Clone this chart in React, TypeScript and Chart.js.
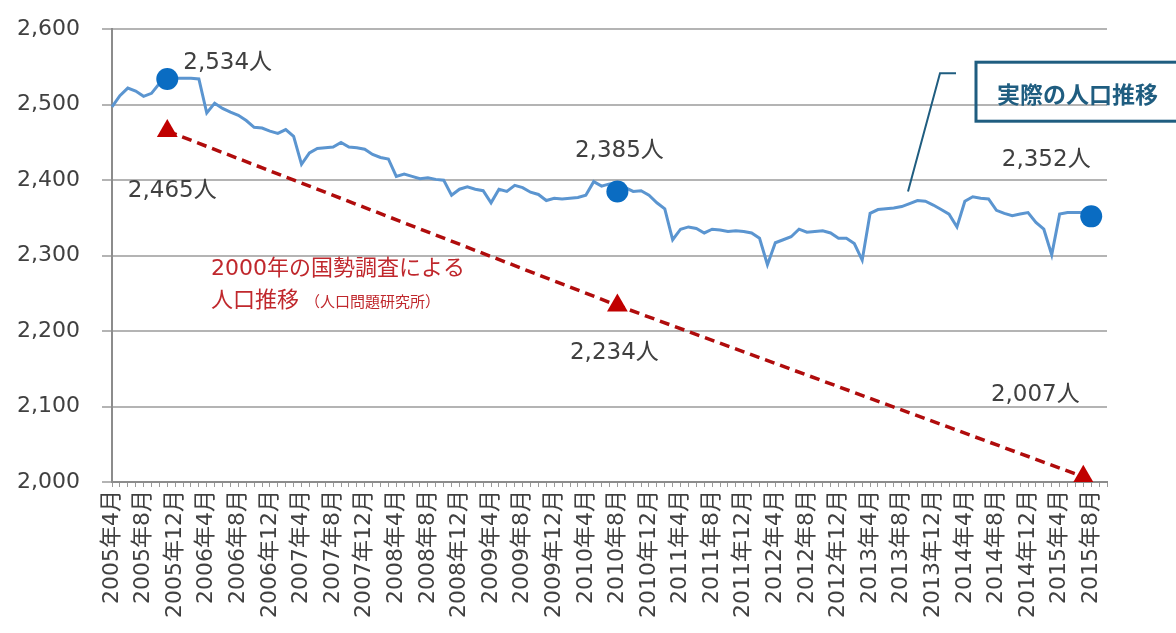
import React, { useEffect, useRef } from "react";
import { Chart, registerables } from "chart.js";

Chart.register(...registerables);

const FONT = "'DejaVu Sans', 'Noto Sans CJK JP', sans-serif";

// Month categories: 2005年4月 onward (two extra trailing months keep the axis open on the right)
const firstYear = 2005;
const firstMonth = 4;
const monthCount = 127;
const monthLabels: string[] = [];
for (let i = 0; i < monthCount; i++) {
  const m = firstMonth - 1 + i;
  monthLabels.push(`${firstYear + Math.floor(m / 12)}年${(m % 12) + 1}月`);
}

// Actual monthly population (人), 2005年4月 – 2015年8月
const actualPopulation: number[] = [
  2497, 2512, 2522, 2518, 2511, 2515, 2528, 2533, 2535, 2535,
  2535, 2534, 2489, 2502, 2495, 2490, 2486, 2479, 2470, 2469,
  2465, 2462, 2467, 2458, 2421, 2436, 2442, 2443, 2444, 2450,
  2444, 2443, 2441, 2434, 2430, 2428, 2405, 2408, 2405, 2402,
  2403, 2401, 2400, 2380, 2388, 2391, 2388, 2386, 2370, 2388,
  2385, 2393, 2390, 2384, 2381, 2373, 2376, 2375, 2376, 2377,
  2380, 2398, 2392, 2395, 2395, 2390, 2385, 2386, 2380, 2370,
  2362, 2321, 2335, 2338, 2336, 2330, 2335, 2334, 2332, 2333,
  2332, 2330, 2323, 2288, 2317, 2321, 2325, 2335, 2331, 2332,
  2333, 2330, 2323, 2323, 2316, 2294, 2356, 2361, 2362, 2363,
  2365, 2369, 2373, 2372, 2367, 2361, 2355, 2338, 2372, 2378,
  2376, 2375, 2360, 2356, 2353, 2355, 2357, 2344, 2335, 2301,
  2355, 2357, 2357, 2357, 2358,
];

// Highlighted actual values (blue dots)
const actualMarkMonths = ["2005年11月", "2010年8月", "2015年8月"];
const actualMarkValues = [2534, 2385, 2352];

// Projection based on the 2000 census (red triangles, dashed)
const projectionMonths = ["2005年11月", "2010年8月", "2015年7月"];
const projectionValues = [2465, 2234, 2007];

const yTicks = [2000, 2100, 2200, 2300, 2400, 2500, 2600];

function sparse(months: string[], values: number[]): (number | null)[] {
  const arr: (number | null)[] = monthLabels.map(() => null);
  months.forEach((m, i) => {
    arr[monthLabels.indexOf(m)] = values[i];
  });
  return arr;
}

const fmt = (v: number) => v.toLocaleString("en-US");

const annotations = {
  id: "populationAnnotations",
  afterDatasetsDraw(chart: any) {
    const { ctx, scales, chartArea } = chart;
    const xs = scales.x;
    const ys = scales.y;
    const px = (m: string) => xs.getPixelForValue(monthLabels.indexOf(m));
    ctx.save();

    // value labels
    ctx.font = `23px ${FONT}`;
    ctx.fillStyle = "#404040";
    ctx.textBaseline = "middle";
    const actualOffsets = [
      { dx: 16, dy: -16, align: "left" },
      { dx: 2, dy: -40, align: "center" },
      { dx: -45, dy: -56, align: "center" },
    ];
    actualMarkMonths.forEach((m, i) => {
      const o = actualOffsets[i];
      ctx.textAlign = o.align;
      ctx.fillText(`${fmt(actualMarkValues[i])}人`, px(m) + o.dx, ys.getPixelForValue(actualMarkValues[i]) + o.dy);
    });
    const projOffsets = [
      { dx: 5, dy: 60 },
      { dx: -3, dy: 48 },
      { dx: -48, dy: -82 },
    ];
    projectionMonths.forEach((m, i) => {
      const o = projOffsets[i];
      ctx.textAlign = "center";
      ctx.fillText(`${fmt(projectionValues[i])}人`, px(m) + o.dx, ys.getPixelForValue(projectionValues[i]) + o.dy);
    });

    // projection caption
    const cx = chartArea.left + 99;
    ctx.fillStyle = "#c0282d";
    ctx.textAlign = "left";
    ctx.font = `22px ${FONT}`;
    ctx.fillText("2000年の国勢調査による", cx, chartArea.top + 240);
    ctx.fillText("人口推移", cx, chartArea.top + 272);
    const w = ctx.measureText("人口推移").width;
    ctx.font = `15px ${FONT}`;
    ctx.fillText("（人口問題研究所）", cx + w + 6, chartArea.top + 274);

    // callout for the actual series
    const teal = "#1f5d80";
    const ax = xs.getPixelForValue(100.8);
    const ay = ys.getPixelForValue(actualPopulation[101]) - 12;
    ctx.strokeStyle = teal;
    ctx.lineWidth = 2;
    ctx.beginPath();
    ctx.moveTo(ax, ay);
    ctx.lineTo(ax + 32, chartArea.top + 44);
    ctx.lineTo(ax + 48, chartArea.top + 44);
    ctx.stroke();
    ctx.lineWidth = 3;
    ctx.strokeRect(chartArea.right - 131, chartArea.top + 33, 240, 59);
    ctx.fillStyle = teal;
    ctx.font = `bold 23px 'Noto Sans CJK JP', sans-serif`;
    ctx.textAlign = "left";
    ctx.fillText("実際の人口推移", chartArea.right - 110, chartArea.top + 65);

    ctx.restore();
  },
};

export default function App() {
  const canvasRef = useRef<HTMLCanvasElement>(null);

  useEffect(() => {
    const chart = new Chart(canvasRef.current!, {
      type: "line",
      data: {
        labels: monthLabels,
        datasets: [
          {
            label: "実際の人口推移",
            data: actualPopulation,
            borderColor: "#5b95d0",
            borderWidth: 3,
            pointRadius: 0,
            tension: 0,
            order: 3,
          },
          {
            label: "実際の人口",
            data: sparse(actualMarkMonths, actualMarkValues),
            showLine: false,
            pointStyle: "circle",
            pointRadius: 11,
            pointBackgroundColor: "#0a6cc2",
            pointBorderWidth: 0,
            order: 2,
          },
          {
            label: "2000年の国勢調査による人口推移",
            data: sparse(projectionMonths, projectionValues),
            spanGaps: true,
            borderColor: "#b00c0c",
            borderWidth: 3.5,
            borderDash: [10, 6],
            pointStyle: "triangle",
            pointRadius: 12,
            pointBackgroundColor: "#c00000",
            pointBorderWidth: 0,
            order: 1,
          },
        ],
      },
      options: {
        responsive: true,
        maintainAspectRatio: false,
        animation: false,
        layout: { padding: { top: 22, right: 69, left: 0, bottom: 0 } },
        plugins: { legend: { display: false }, tooltip: { enabled: false } },
        scales: {
          x: {
            type: "category",
            offset: false,
            grid: {
              display: true,
              drawOnChartArea: false,
              drawTicks: true,
              tickLength: 5,
              color: "#9a9a9a",
              lineWidth: 1,
            },
            border: { display: true, color: "#8c8c8c", width: 2 },
            ticks: {
              autoSkip: false,
              maxRotation: 90,
              minRotation: 90,
              padding: 3,
              color: "#404040",
              font: { family: FONT, size: 22 },
              callback: (_v: any, i: number) =>
                i % 4 === 0 && i < actualPopulation.length ? monthLabels[i] : "",
            },
            afterFit: (s: any) => {
              s.height = 151;
            },
          },
          y: {
            min: yTicks[0],
            max: yTicks[yTicks.length - 1],
            afterBuildTicks: (s: any) => {
              s.ticks = yTicks.map((v) => ({ value: v }));
            },
            grid: { color: "#b4b4b4", lineWidth: 2, tickLength: 10 },
            border: { display: true, color: "#8c8c8c", width: 2 },
            ticks: {
              padding: 22,
              color: "#404040",
              font: { family: FONT, size: 22 },
              callback: (v: any) => fmt(Number(v)),
            },
            afterFit: (s: any) => {
              s.width = 112;
            },
          },
        },
      },
      plugins: [annotations],
    });
    return () => chart.destroy();
  }, []);

  return (
    <div style={{ position: "fixed", left: 0, top: -6, width: 1176, height: 639, background: "#fff" }}>
      <canvas ref={canvasRef} />
    </div>
  );
}
